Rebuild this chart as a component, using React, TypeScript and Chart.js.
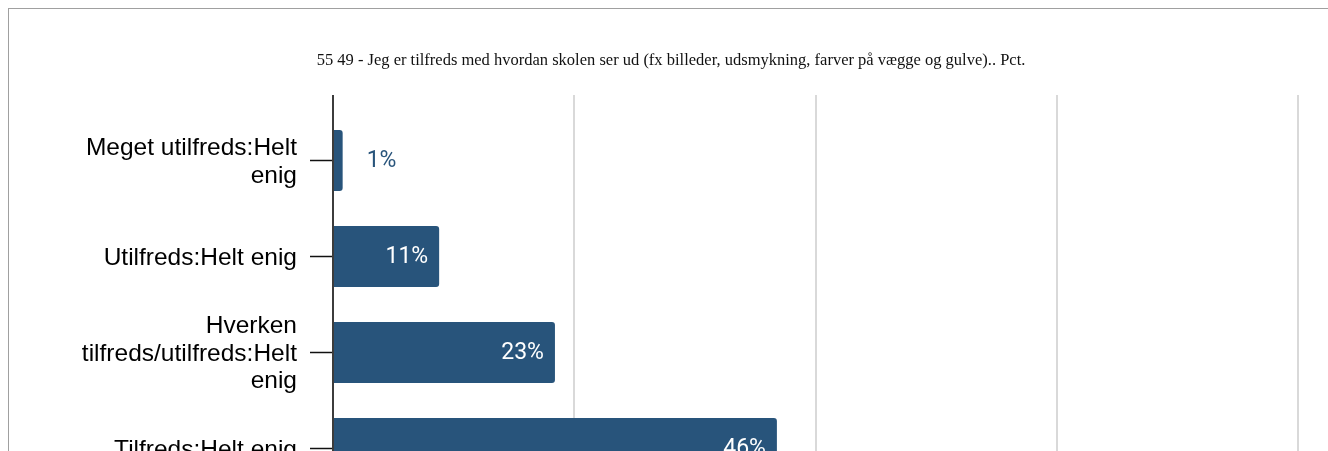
import React, { useEffect, useRef } from "react";
import { Chart, registerables } from "chart.js";

Chart.register(...registerables);

const TITLE = "55 49 - Jeg er tilfreds med hvordan skolen ser ud (fx billeder, udsmykning, farver på vægge og gulve).. Pct.";
const CATEGORIES: (string | string[])[] = [
  ["Meget utilfreds:Helt", "enig"],
  "Utilfreds:Helt enig",
  ["Hverken", "tilfreds/utilfreds:Helt", "enig"],
  "Tilfreds:Helt enig",
  ["Meget tilfreds:Helt", "enig"],
];
const VALUES = [1, 11, 23, 46, 19];
const X_TICKS = [0, 25, 50, 75, 100];

const BAR_COLOR = "#28547b";

const valueLabels = {
  id: "valueLabels",
  afterDatasetsDraw(chart: any) {
    const ctx = chart.ctx;
    const meta = chart.getDatasetMeta(0);
    ctx.save();
    ctx.font = '23px "Roboto"';
    ctx.textBaseline = "middle";
    meta.data.forEach((bar: any, i: number) => {
      const v = VALUES[i];
      const text = v + "%";
      const w = ctx.measureText(text).width;
      const barLen = bar.x - bar.base;
      if (barLen < w + 20) {
        ctx.fillStyle = BAR_COLOR;
        ctx.textAlign = "left";
        ctx.fillText(text, bar.x + 24, bar.y + 1);
      } else {
        ctx.fillStyle = "#ffffff";
        ctx.textAlign = "right";
        ctx.fillText(text, bar.x - 11, bar.y + 1);
      }
    });
    ctx.restore();
  },
};

export default function App() {
  const ref = useRef<HTMLCanvasElement | null>(null);
  useEffect(() => {
    if (!ref.current) return;
    const chart = new Chart(ref.current, {
      type: "bar",
      data: {
        labels: CATEGORIES,
        datasets: [
          {
            data: VALUES,
            backgroundColor: BAR_COLOR,
            borderRadius: 3,
            borderSkipped: "start",
            categoryPercentage: 1,
            barPercentage: 0.635,
          },
        ],
      },
      options: {
        indexAxis: "y",
        responsive: false,
        animation: false,
        devicePixelRatio: 1,
        layout: { padding: { left: 35, right: 35, top: 0, bottom: 36.5 } },
        plugins: {
          legend: { display: false },
          tooltip: { enabled: false },
          title: {
            display: true,
            text: TITLE,
            color: "#111",
            font: { family: '"Liberation Serif"', size: 16.5, weight: "normal", lineHeight: 1.2 },
            padding: { top: 42.1, bottom: 24.1 },
          },
        },
        scales: {
          x: {
            position: "top",
            min: 0,
            max: 100,
            afterBuildTicks: (s: any) => {
              s.ticks = X_TICKS.map((v) => ({ value: v }));
            },
            ticks: { display: false, stepSize: 25 },
            border: { display: false },
            grid: {
              drawTicks: true,
              tickLength: 17.5,
              lineWidth: 2,
              color: (c: any) => (c.tick && c.tick.value === 0 ? "#3c3c3c" : "#d9d9d9"),
              tickColor: (c: any) => (c.tick && c.tick.value === 0 ? "#3c3c3c" : "#d9d9d9"),
            },
          },
          y: {
            afterFit: (s: any) => {
              s.width = 289;
            },
            border: { display: true, color: "#3c3c3c", width: 2 },
            grid: {
              offset: false,
              drawOnChartArea: false,
              drawTicks: true,
              tickLength: 23,
              tickColor: "#111",
              tickWidth: 1.5,
            },
            ticks: {
              padding: 13,
              color: "#000",
              labelOffset: 1.5,
              font: { family: '"Liberation Sans"', size: 24.5, lineHeight: 1.13 },
            },
          },
        },
      },
      plugins: [valueLabels],
    } as any);
    return () => chart.destroy();
  }, []);

  return (
    <div style={{ position: "fixed", left: 0, top: 0, width: 1328, height: 451, overflow: "hidden", background: "#fff" }}>
      <div
        style={{
          position: "absolute",
          left: 8,
          top: 8,
          width: 1324,
          height: 640,
          border: "1px solid #a0a0a0",
          background: "#fff",
        }}
      >
        <canvas ref={ref} width={1324} height={624} style={{ display: "block", width: 1324, height: 624 }} />
      </div>
    </div>
  );
}
